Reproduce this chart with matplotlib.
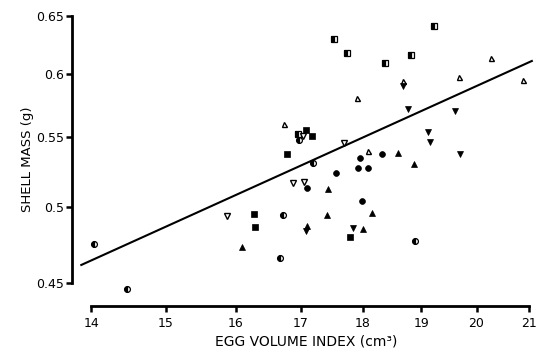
import matplotlib
matplotlib.use('Agg')
import matplotlib.pyplot as plt
from matplotlib.ticker import NullLocator

# egg volume index (cm3) vs shell mass (g), one marker style per group
half_circle_x = [14.03, 14.47, 16.72, 16.67, 18.90, 16.97, 17.19]
half_circle_y = [0.475, 0.4465, 0.4946, 0.4662, 0.4769, 0.5479, 0.5312]

circle_x = [17.09, 17.56, 17.92, 18.09, 17.95, 18.32, 17.99]
circle_y = [0.513, 0.5236, 0.5272, 0.5272, 0.5345, 0.5375, 0.5042]

square_x = [16.27, 16.29, 16.78, 17.08, 17.18, 17.79]
square_y = [0.495, 0.4862, 0.5375, 0.5555, 0.5509, 0.4796]

half_square_x = [17.53, 17.74, 18.38, 18.82, 19.23, 16.95]
half_square_y = [0.629, 0.6174, 0.609, 0.6158, 0.6408, 0.5524]

tri_up_x = [16.09, 17.09, 17.43, 17.42, 18.15, 18.00, 18.60, 18.87]
tri_up_y = [0.473, 0.4869, 0.5122, 0.4943, 0.4956, 0.4849, 0.5382, 0.5301]

tri_up_open_x = [16.73, 18.09, 17.90, 18.68, 19.68, 20.27, 20.88]
tri_up_open_y = [0.5601, 0.5397, 0.5804, 0.5945, 0.5974, 0.6128, 0.5953]

tri_down_x = [17.08, 17.84, 18.68, 18.77, 19.12, 19.15, 19.60, 19.70]
tri_down_y = [0.4835, 0.4855, 0.5897, 0.5717, 0.5543, 0.5464, 0.5698, 0.5375]

tri_down_open_x = [15.87, 16.88, 17.04, 17.03, 17.69]
tri_down_open_y = [0.4936, 0.5165, 0.5172, 0.5509, 0.5456]

# regression line end points
fit_x = [13.87, 21.05]
fit_y = [0.4615, 0.6107]

x_ticks = [14, 15, 16, 17, 18, 19, 20, 21]
y_ticks = [0.45, 0.5, 0.55, 0.6, 0.65]
y_tick_labels = ['0.45', '0.5', '0.55', '0.6', '0.65']

plt.rcParams['font.family'] = ['DejaVu Sans']

fig = plt.figure(figsize=(5.47, 3.55), dpi=100)
ax = fig.add_axes([0.1316, 0.138, 0.8556, 0.8282])
ax.set_xscale('log')
ax.set_yscale('log')

ax.plot(fit_x, fit_y, color='black', lw=1.5, zorder=1)

k = dict(linestyle='none', markeredgecolor='black', zorder=3)
ax.plot(half_circle_x, half_circle_y, marker='o', ms=4.2, fillstyle='left',
        color='black', markerfacecoloralt='white', mew=0.9, **k)
ax.plot(circle_x, circle_y, marker='o', ms=4.2, mew=0.5, color='black', **k)
ax.plot(square_x, square_y, marker='s', ms=4.2, mew=0.5, color='black', **k)
ax.plot(half_square_x, half_square_y, marker='s', ms=4.2, fillstyle='left',
        color='black', markerfacecoloralt='white', mew=0.9, **k)
ax.plot(tri_up_x, tri_up_y, marker='^', ms=4, mew=0.5, color='black', **k)
ax.plot(tri_up_open_x, tri_up_open_y, marker='^', ms=3.6, mew=1.0,
        markerfacecolor='white', **k)
ax.plot(tri_down_x, tri_down_y, marker='v', ms=4.4, mew=0.5, color='black', **k)
ax.plot(tri_down_open_x, tri_down_open_y, marker='v', ms=4, mew=1.0,
        markerfacecolor='white', **k)

ax.set_xlim(13.751, 21.21)
ax.set_ylim(0.4362, 0.6532)

ax.set_xticks(x_ticks, labels=[str(t) for t in x_ticks])
ax.set_yticks(y_ticks, labels=y_tick_labels)
ax.xaxis.set_minor_locator(NullLocator())
ax.yaxis.set_minor_locator(NullLocator())

for side in ['top', 'right']:
    ax.spines[side].set_visible(False)
ax.spines['left'].set_linewidth(2)
ax.spines['bottom'].set_linewidth(2)
ax.spines['left'].set_bounds(0.45, 0.65)
ax.spines['bottom'].set_bounds(14, 21)

ax.tick_params(axis='both', direction='out', length=4, width=1.8,
               labelsize=9, colors='black')
ax.tick_params(axis='x', pad=4)
ax.tick_params(axis='y', pad=1.5)

ax.set_xlabel('EGG VOLUME INDEX (cm³)', fontsize=10, labelpad=3)
ax.set_ylabel('SHELL MASS (g)', fontsize=9.5, labelpad=2)

fig.savefig('out.png', dpi=100)
